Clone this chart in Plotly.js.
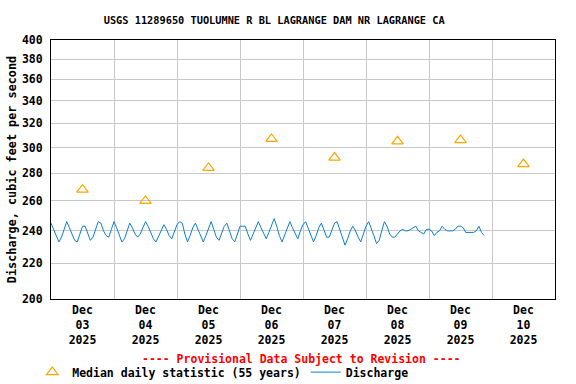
<!DOCTYPE html>
<html>
<head>
<meta charset="utf-8">
<script src="https://cdn.plot.ly/plotly-3.0.1.min.js"></script>
<style>html,body{margin:0;padding:0;background:#fff;}#chart{width:576px;height:384px;}</style>
</head>
<body>
<div id="chart"></div>
<script>
// Median daily statistic (55 years), plotted at noon of each day
const medianDays = ['2025-12-03','2025-12-04','2025-12-05','2025-12-06','2025-12-07','2025-12-08','2025-12-09','2025-12-10'];
const medianValues = [268, 260, 284, 307, 292, 305, 306, 287];

// Discharge, hourly readings starting 2025-12-03 00:00 (cfs)
const dischargeStart = {year: 2025, month: 12, day: 3};
const dischargeDay1 = [245,241,237,233,236,241, 246,242,238,234,233,238, 243,243,238,234,236,241, 246,245,240,237,236,241];
const dischargeDay2 = [246,242,237,233,235,240, 245,242,238,236,238,242, 246,243,239,235,233,237, 241,244,241,237,235,240];
const dischargeDay3 = [244,246,245,238,233,237, 242,245,241,236,233,237, 242,246,241,236,234,239, 243,245,240,235,233,238];
const dischargeDay4 = [243,243,243,238,234,238, 242,246,242,238,235,239, 244,248,243,237,233,237, 242,246,242,238,235,240];
const dischargeDay5 = [244,246,242,237,233,237, 242,245,240,236,236,241, 245,246,241,235,231,235, 240,243,240,236,233,238];
const dischargeDay6 = [243,246,242,237,232,234, 240,246,243,238,236,236, 238,240,241,240,240,241, 242,243,240,239,238,241];
const dischargeDay7 = [241,240,237,239,240,243, 241,240,240,240,241,243, 243,242,239,239,239,239, 240,243,239,237];

const yTicks = [200,220,240,260,280,300,320,340,360,380,400];
const titleText = 'USGS 11289650 TUOLUMNE R BL LAGRANGE DAM NR LAGRANGE CA';
const yTitle = 'Discharge, cubic feet per second';
const provisionalText = '---- Provisional Data Subject to Revision ----';
const medianName = 'Median daily statistic (55 years)';
const dischargeName = 'Discharge';

function pad(n){return (n<10?'0':'')+n;}
const dischargeValues = [].concat(dischargeDay1,dischargeDay2,dischargeDay3,dischargeDay4,dischargeDay5,dischargeDay6,dischargeDay7);
const dischargeTimes = dischargeValues.map(function(v,i){
  const d = dischargeStart.day + Math.floor(i/24);
  const h = i % 24;
  return dischargeStart.year + '-' + pad(dischargeStart.month) + '-' + pad(d) + ' ' + pad(h) + ':00';
});
const medianTimes = medianDays.map(function(d){return d + ' 12:00';});

const FONT = '"DejaVu Sans Mono", "Liberation Mono", monospace';

const traces = [
  {
    x: medianTimes, y: medianValues, type: 'scatter', mode: 'markers', name: medianName,
    marker: {symbol: 'triangle-up-open', size: 10, color: '#FFA500', line: {width: 1.2, color: '#FFA500'}}
  },
  {
    x: dischargeTimes, y: dischargeValues, type: 'scatter', mode: 'lines', name: dischargeName,
    line: {color: '#0a7fd4', width: 1}
  }
];

const layout = {
  width: 576, height: 384,
  margin: {l: 51, r: 21, t: 40, b: 85},
  paper_bgcolor: '#ffffff', plot_bgcolor: '#ffffff',
  font: {family: FONT, size: 11.5, color: '#000', weight: 'bold'},
  title: {text: titleText, x: 0.476, xref: 'container', xanchor: 'center', y: 0.948, yref: 'container', yanchor: 'middle',
          font: {family: FONT, size: 10.3, color: '#000', weight: 'bold'}},
  xaxis: {
    type: 'date', range: ['2025-12-03 00:00', '2025-12-11 00:00'],
    tick0: '2025-12-03', dtick: 86400000, ticklabelmode: 'period', tickformat: '%b<br>%d<br>%Y',
    showgrid: true, gridcolor: '#c8c8c8', gridwidth: 1,
    showline: true, linecolor: '#000', linewidth: 1, mirror: true, ticks: '', zeroline: false,
    tickfont: {family: FONT, size: 11.5, color: '#000', weight: 'bold'}
  },
  yaxis: {
    type: 'log', range: [Math.log10(200), Math.log10(400)],
    tickvals: yTicks, ticktext: yTicks.map(String),
    showgrid: true, gridcolor: '#c8c8c8', gridwidth: 1,
    showline: true, linecolor: '#000', linewidth: 1, mirror: true,
    ticks: 'outside', ticklen: 5, tickcolor: 'rgba(0,0,0,0)', zeroline: false,
    tickfont: {family: FONT, size: 11.5, color: '#000', weight: 'bold'},
    title: {text: yTitle, standoff: 2, font: {family: FONT, size: 11.8, color: '#000', weight: 'bold'}}
  },
  showlegend: true,
  legend: {orientation: 'h', xref: 'container', yref: 'container', x: 0.056, y: 0.031, xanchor: 'left', yanchor: 'middle',
           font: {family: FONT, size: 11.5, color: '#000', weight: 'bold'}, bgcolor: 'rgba(0,0,0,0)', tracegroupgap: 0, itemwidth: 30},
  annotations: [
    {text: provisionalText, xref: 'paper', yref: 'paper', x: (301.5-51)/504, y: -(359-299)/259, xanchor: 'center', yanchor: 'middle',
     showarrow: false, font: {family: FONT, size: 11.5, color: '#ff0000', weight: 'bold'}}
  ]
};

Plotly.newPlot('chart', traces, layout, {displayModeBar: false, staticPlot: true});
</script>
</body>
</html>
